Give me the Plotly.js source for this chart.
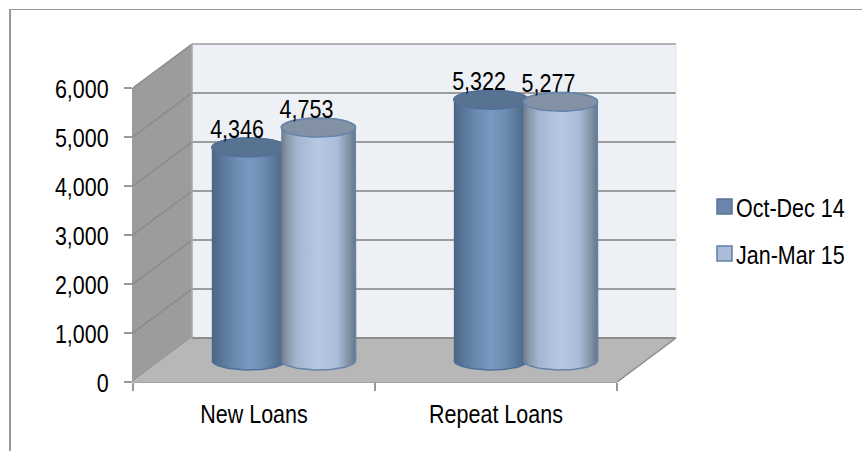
<!DOCTYPE html>
<html>
<head>
<meta charset="utf-8">
<script src="https://cdn.plot.ly/plotly-3.0.1.min.js"></script>
<style>html,body{margin:0;padding:0;background:#fff;overflow:hidden}#chart{width:862px;height:451px}</style>
</head>
<body>
<div id="chart"></div>
<script>
// Quarterly loan counts
const categories = ['New Loans', 'Repeat Loans'];
const seriesNames = ['Oct-Dec 14', 'Jan-Mar 15'];
const octDec14 = [4346, 5322];
const janMar15 = [4753, 5277];
const yTicks = [0, 1000, 2000, 3000, 4000, 5000, 6000];
const xEdges = [0, 1, 2];

// Plot area, in page pixels
const W = 862, H = 451;
const m = {l: 133, r: 182, t: 40, b: 69, autoexpand: false};
const pxPerCat = 242, pxPerThousand = 49;
const plotW = W - m.l - m.r, plotH = H - m.t - m.b;
const xMax = plotW / pxPerCat, yMax = plotH / pxPerThousand * 1000;

// Oblique projection: how far the back wall is shifted from the front plane
const depthX = 59 / pxPerCat, depthY = 44 / pxPerThousand * 1000;
const maxY = yTicks[yTicks.length - 1];

// Cylinders stand half way into the floor
const midDepth = 0.49;
const radiusX = 37.2 / pxPerCat, radiusY = 9.5 / pxPerThousand * 1000;
const seriesOffset = [-0.14, 0.147];

const seriesStyle = [
  {
    values: octDec14,
    gradient: [[0, '#4a6585'], [0.1, '#567395'], [0.33, '#6c8cb2'], [0.5, '#7899c3'], [0.7, '#6c8bb0'], [0.9, '#52708f'], [1, '#4a6585']],
    cap: '#587391', edge: '#50709a', swatch: '#6985aa', swatchLine: '#587396'
  },
  {
    values: janMar15,
    gradient: [[0, '#6f7b8b'], [0.08, '#8a98aa'], [0.2, '#a3b4ce'], [0.5, '#b6c9e4'], [0.75, '#aabcd7'], [0.92, '#808ea2'], [1, '#66758a']],
    cap: '#8391a5', edge: '#6484ab', swatch: '#aabcd8', swatchLine: '#5f7fa5'
  }
];

function arc(cx, cy, from, to) {
  const xs = [], ys = [];
  const n = 40;
  for (let i = 0; i <= n; i++) {
    const t = from + (to - from) * i / n;
    xs.push(cx + radiusX * Math.cos(t));
    ys.push(cy + radiusY * Math.sin(t));
  }
  return {xs, ys};
}

const traces = [];
categories.forEach((cat, c) => {
  seriesStyle.forEach((s, i) => {
    const cx = c + 0.5 + seriesOffset[i] + midDepth * depthX;
    const base = midDepth * depthY;
    const top = base + s.values[c];
    // Body: down the left side, round the lower rim, up the right side
    const lower = arc(cx, base, Math.PI, 2 * Math.PI);
    const upper = arc(cx, top, 0, Math.PI);
    traces.push({
      x: lower.xs.concat(upper.xs), y: lower.ys.concat(upper.ys),
      mode: 'lines', fill: 'toself', showlegend: false, hoverinfo: 'skip',
      line: {color: s.edge, width: 1.5},
      fillgradient: {type: 'horizontal', colorscale: s.gradient}
    });
    // Top face
    const ring = arc(cx, top, 0, 2 * Math.PI);
    traces.push({
      x: ring.xs, y: ring.ys,
      mode: 'lines', fill: 'toself', fillcolor: s.cap, showlegend: false, hoverinfo: 'skip',
      line: {color: s.edge, width: 1.5}
    });
  });
});

// Legend keys sit outside the axis range, so only their legend entries show
seriesStyle.forEach((s, i) => {
  traces.push({
    name: seriesNames[i], legendgroup: seriesNames[i],
    x: [-1], y: [s.values[0]], mode: 'markers', hoverinfo: 'skip',
    marker: {symbol: 'square', size: 15, color: s.swatch, line: {color: s.swatchLine, width: 1.5}}
  });
});

// Value labels
const labelX = [], labelY = [], labelText = [];
categories.forEach((cat, c) => {
  seriesStyle.forEach((s, i) => {
    labelX.push(c + 0.5 + seriesOffset[i] + midDepth * depthX - 12 / pxPerCat);
    labelY.push(midDepth * depthY + s.values[c] + 17.5 / pxPerThousand * 1000);
    labelText.push(s.values[c].toLocaleString('en-US'));
  });
});
const textFont = {family: 'Liberation Sans, Arial, sans-serif', size: 21.5, color: '#000'};
traces.push({
  x: labelX, y: labelY, text: labelText, mode: 'text', showlegend: false, hoverinfo: 'skip',
  textposition: 'middle center', cliponaxis: false,
  textfont: textFont
});

// Walls, floor and gridlines
const poly = pts => 'M' + pts.map(p => p.join(',')).join('L') + 'Z';
const shapes = [];
const addFill = (pts, color) => shapes.push({type: 'path', xref: 'x', yref: 'y', layer: 'below', path: poly(pts), fillcolor: color, line: {width: 0}});
const addLine = (x0, y0, x1, y1, color, width) => shapes.push({type: 'line', xref: 'x', yref: 'y', layer: 'below', x0, y0, x1, y1, line: {color, width}});

addFill([[depthX, depthY], [2 + depthX, depthY], [2 + depthX, depthY + maxY], [depthX, depthY + maxY]], '#edf0f5');
addFill([[0, 0], [depthX, depthY], [depthX, depthY + maxY], [0, maxY]], '#9c9c9c');
addFill([[0, 0], [2, 0], [2 + depthX, depthY], [depthX, depthY]], '#b7b7b7');

yTicks.forEach(v => {
  if (v > 0) addLine(0, v, depthX, depthY + v, '#8a8a8a', 1.5);
  addLine(depthX, depthY + v, 2 + depthX, depthY + v, v === 0 ? '#8c8c8c' : (v === maxY ? '#b4b4b4' : '#9c9c9c'), 2);
});
addLine(depthX, depthY, depthX, depthY + maxY, '#a8a8a8', 1.5);
addLine(2 + depthX, depthY, 2 + depthX, depthY + maxY, '#e0e4ea', 1);
addLine(2, 0, 2 + depthX, depthY, '#8c8c8c', 1.5);

// Axis lines along the front edge and the outer frame of the chart
const px = v => (v - m.l) / plotW;
const py = v => (H - m.b - v) / plotH;
shapes.push({type: 'line', xref: 'paper', yref: 'y', layer: 'below', x0: 0, x1: 0, y0: 0, y1: maxY, line: {color: '#9a9a9a', width: 2}});
shapes.push({type: 'line', xref: 'x', yref: 'paper', layer: 'below', x0: 0, x1: 2, y0: 0, y1: 0, line: {color: '#a2a2a2', width: 2}});
shapes.push({type: 'line', xref: 'paper', yref: 'paper', layer: 'below', x0: px(10), x1: px(10), y0: py(9), y1: py(H), line: {color: '#989898', width: 2}});
shapes.push({type: 'line', xref: 'paper', yref: 'paper', layer: 'below', x0: px(9), x1: px(W), y0: py(9.5), y1: py(9.5), line: {color: '#989898', width: 1}});

const layout = {
  width: W, height: H, margin: m,
  paper_bgcolor: '#fff', plot_bgcolor: 'rgba(0,0,0,0)',
  showlegend: true,
  legend: {
    x: px(696), y: py(186), xanchor: 'left', yanchor: 'top', tracegroupgap: 16,
    font: textFont, bgcolor: 'rgba(0,0,0,0)'
  },
  xaxis: {
    range: [0, xMax], showgrid: false, zeroline: false, showline: false,
    tickmode: 'array', tickvals: categories.map((c, i) => i + 0.5), ticktext: categories,
    ticks: '', tickfont: textFont, ticklabelstandoff: 16,
    minor: {tickmode: 'array', tickvals: xEdges, ticks: 'outside', ticklen: 8, tickwidth: 2, tickcolor: '#999', showgrid: false}
  },
  yaxis: {
    range: [0, yMax], showgrid: false, zeroline: false, showline: false,
    tickmode: 'array', tickvals: yTicks, tickformat: ',d',
    ticks: 'outside', ticklen: 8, tickwidth: 1.5, tickcolor: '#999', tickfont: textFont, ticklabelstandoff: 11
  },
  shapes
};

// The chart's lettering is a little taller than the regular face
const textStretch = 1.18;

Plotly.newPlot('chart', traces, layout, {staticPlot: true, displayModeBar: false}).then(gd => {
  // Bring the legend keys closer to their labels
  gd.querySelectorAll('.legend .legendsymbols').forEach(g => g.setAttribute('transform', 'translate(8.5,0)'));
  gd.querySelectorAll('.xtick text, .ytick text, .legendtext, .textpoint text').forEach(t => {
    const b = t.getBBox();
    const cy = b.y + b.height / 2;
    const prior = t.getAttribute('transform') || '';
    t.setAttribute('transform', `${prior} translate(0,${cy + 1}) scale(1,${textStretch}) translate(0,${-cy})`);
  });
});
</script>
</body>
</html>
